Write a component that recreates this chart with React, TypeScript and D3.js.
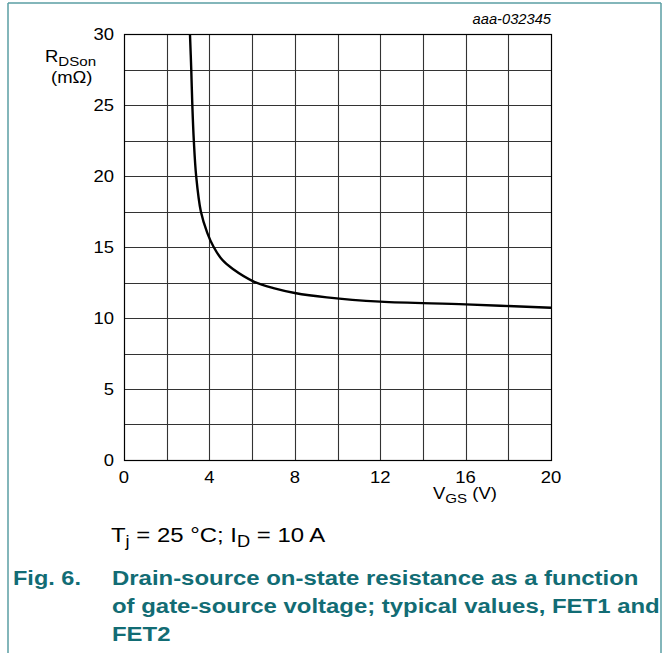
import React from "react";
import * as d3 from "d3";

// V_GS (V) vs R_DSon (mΩ)
const vgs = [3.09, 3.15, 3.2, 3.27, 3.38, 3.6, 3.9, 4.2, 4.6, 5.1, 6.1, 7.0, 8.0, 9.5, 12.0, 16.0, 20.0];
const rdson = [30, 27.5, 25, 22.5, 20, 17.5, 16.0, 15.0, 14.1, 13.45, 12.55, 12.1, 11.76, 11.45, 11.15, 10.96, 10.72];

const xTicks = [0, 4, 8, 12, 16, 20];
const yTicks = [0, 5, 10, 15, 20, 25, 30];
const xGrid = [2, 4, 6, 8, 10, 12, 14, 16, 18];
const yGrid = [2.5, 5, 7.5, 10, 12.5, 15, 17.5, 20, 22.5, 25, 27.5];

const W = 670;
const H = 653;
const left = 124, right = 551, top = 34, bottom = 460;
const teal = "#126c74";
const frame = "#5a9ea3";
const font = "Liberation Sans, Arial, sans-serif";

// text drawn slightly wider, like the reference's rendering
function T(props: { x: number; y: number; sx?: number; anchor?: string; size: number; weight?: string; italic?: boolean; fill?: string; children: React.ReactNode }) {
  const { x, y, sx = 1.12, anchor = "start", size, weight, italic, fill = "#000", children } = props;
  return (
    <g transform={`translate(${x},${y}) scale(${sx},1)`}>
      <text x={0} y={0} textAnchor={anchor} fontSize={size} fontWeight={weight} fontStyle={italic ? "italic" : undefined} fill={fill}>
        {children}
      </text>
    </g>
  );
}

export default function App() {
  const x = d3.scaleLinear().domain([0, 20]).range([left, right]);
  const y = d3.scaleLinear().domain([0, 30]).range([bottom, top]);
  const pts = vgs.map((v, i) => [v, rdson[i]] as [number, number]);
  const line = d3
    .line<[number, number]>()
    .x((d) => x(d[0]))
    .y((d) => y(d[1]))
    .curve(d3.curveCatmullRom.alpha(0.5));

  return (
    <svg
      width={W}
      height={H}
      style={{ position: "absolute", left: 0, top: 0, background: "#fff" }}
      fontFamily={font}
    >
      {/* frame */}
      <line x1={8} x2={8} y1={3} y2={H} stroke={frame} strokeWidth={1.5} />
      <line x1={661} x2={661} y1={3} y2={H} stroke={frame} strokeWidth={1.5} />
      <line x1={8} x2={661} y1={3} y2={3} stroke={frame} strokeWidth={1.5} />

      {/* grid */}
      {xGrid.map((v) => (
        <line key={"gx" + v} x1={Math.round(x(v)) + 0.5} x2={Math.round(x(v)) + 0.5} y1={top} y2={bottom} stroke="#333" strokeWidth={1.1} />
      ))}
      {yGrid.map((v) => (
        <line key={"gy" + v} x1={left} x2={right} y1={Math.round(y(v)) + 0.5} y2={Math.round(y(v)) + 0.5} stroke="#333" strokeWidth={1.1} />
      ))}
      <rect x={left + 0.5} y={top + 0.5} width={right - left} height={bottom - top} fill="none" stroke="#000" strokeWidth={1.2} />

      {/* curve */}
      <path d={line(pts) || ""} fill="none" stroke="#000" strokeWidth={2.4} />

      {/* tick labels */}
      {yTicks.map((v) => (
        <T key={"ty" + v} x={left - 10} y={y(v) + 6} anchor="end" size={16.5}>
          {v}
        </T>
      ))}
      {xTicks.map((v) => (
        <T key={"tx" + v} x={x(v)} y={bottom + 23} anchor="middle" size={16.5}>
          {v}
        </T>
      ))}

      {/* axis titles */}
      <T x={45} y={62} size={16.5}>
        R<tspan fontSize={13.5} dy={4}>DSon</tspan>
      </T>
      <T x={51} y={83} size={16.5}>(mΩ)</T>
      <T x={433} y={499} size={16.5}>
        V<tspan fontSize={13.5} dy={4}>GS</tspan>
        <tspan dy={-4}> (V)</tspan>
      </T>
      <T x={right} y={24} anchor="end" size={14} italic sx={1.05}>aaa-032345</T>

      {/* conditions */}
      <T x={111} y={542} size={21} sx={1.14}>
        T<tspan fontSize={16} dy={5}>j</tspan>
        <tspan dy={-5}> = 25 °C; I</tspan>
        <tspan fontSize={16} dy={5}>D</tspan>
        <tspan dy={-5}> = 10 A</tspan>
      </T>

      {/* caption */}
      <T x={13} y={585} size={21} weight="bold" fill={teal} sx={1.12}>Fig. 6.</T>
      <T x={112} y={585} size={21} weight="bold" fill={teal} sx={1.14}>Drain-source on-state resistance as a function</T>
      <T x={112} y={613} size={21} weight="bold" fill={teal} sx={1.14}>of gate-source voltage; typical values, FET1 and</T>
      <T x={112} y={641} size={21} weight="bold" fill={teal} sx={1.14}>FET2</T>
    </svg>
  );
}
